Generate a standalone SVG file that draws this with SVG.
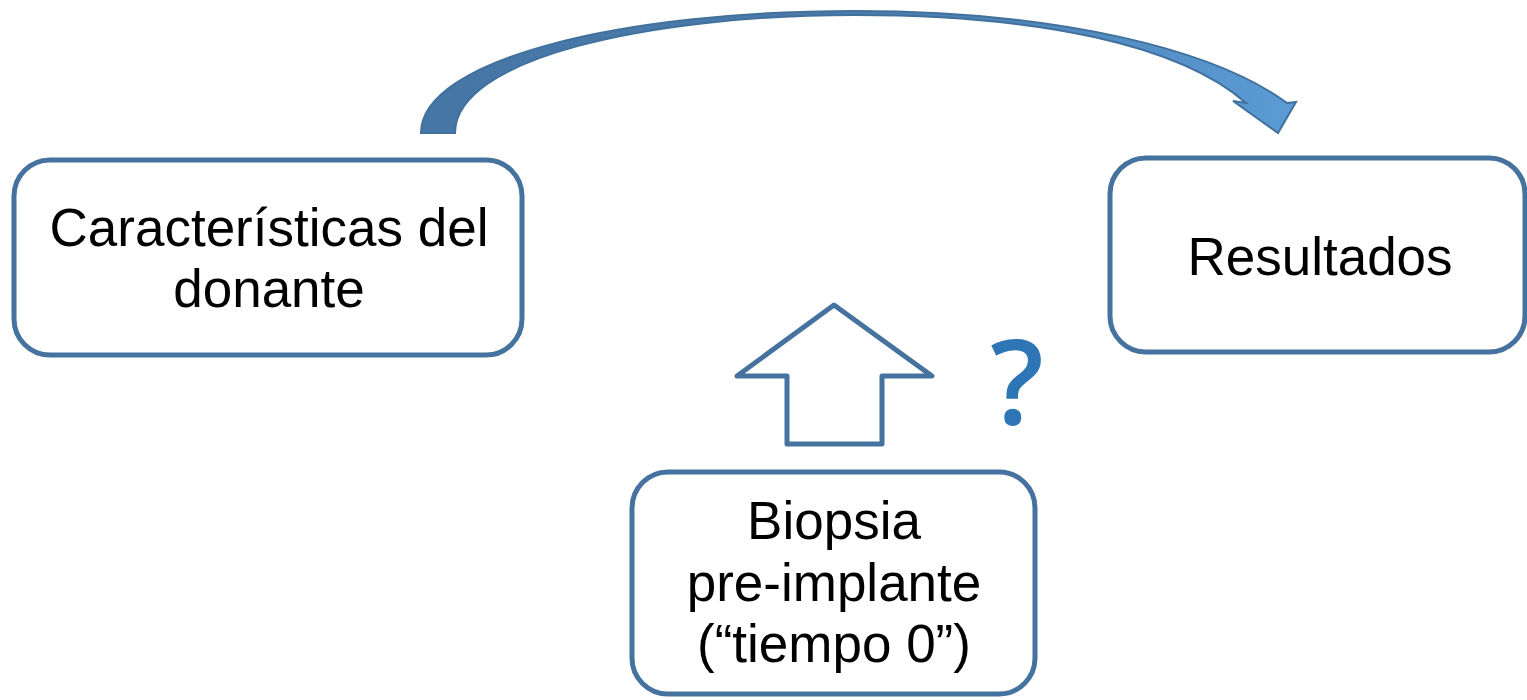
<svg xmlns="http://www.w3.org/2000/svg" width="1527" height="700" viewBox="0 0 1527 700">
<defs>
<style>
.box{fill:#ffffff;stroke:#45729E;stroke-width:5}
.lbl{font-family:"Liberation Sans",Arial,sans-serif;font-size:53px;fill:#000000;text-anchor:middle}
</style>
<linearGradient id="g" x1="420" y1="0" x2="1296" y2="0" gradientUnits="userSpaceOnUse">
<stop offset="0" stop-color="#4676A6"/>
<stop offset="0.5" stop-color="#4A7BAB"/>
<stop offset="1" stop-color="#5B9BD5"/>
</linearGradient>
</defs>
<rect width="1527" height="700" fill="#ffffff"/>
<g id="connectors">
<path d="M 421,133 C 421,60 620,11 855,11 C 1060,11 1215,50 1287,103 L 1296,102 L 1278,133 L 1233,101 L 1246,103 C 1180,45 1040,15 855,15 C 650,15 455,58 455,133 Z" fill="url(#g)" stroke="#41719C" stroke-width="2" stroke-linejoin="miter"/>
<path d="M 834,305 L 932,376 L 882,376 L 882,444 L 787,444 L 787,376 L 737,376 Z" fill="#ffffff" stroke="#45729E" stroke-width="5" stroke-linejoin="round"/>
<text x="1017" y="424" font-family="'Open Sans','DejaVu Sans',sans-serif" font-weight="600" font-size="118" fill="#2E75B6" text-anchor="middle">?</text>
</g>
<g id="node-donante">
<rect class="box" x="14" y="160" width="508" height="195" rx="36"/>
<text class="lbl" x="269" y="246">Características del</text>
<text class="lbl" x="269" y="307">donante</text>
</g>
<g id="node-resultados">
<rect class="box" x="1110" y="158" width="415" height="194" rx="36"/>
<text class="lbl" x="1320" y="275">Resultados</text>
</g>
<g id="node-biopsia">
<rect class="box" x="632" y="472" width="403" height="222" rx="36"/>
<text class="lbl" x="834" y="539">Biopsia</text>
<text class="lbl" x="834" y="601">pre-implante</text>
<text class="lbl" x="834" y="662">(“tiempo 0”)</text>
</g>
</svg>
